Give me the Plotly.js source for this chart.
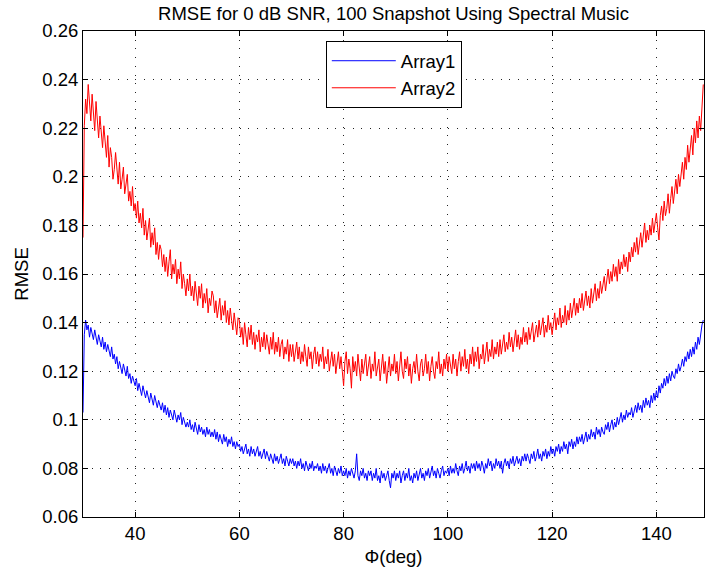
<!DOCTYPE html>
<html>
<head>
<meta charset="utf-8">
<script src="https://cdn.plot.ly/plotly-3.0.1.min.js"></script>
<style>html,body{margin:0;padding:0;background:#fff;}#chart{width:705px;height:574px;}</style>
</head>
<body>
<div id="chart"></div>
<script>
// Angle grid: starts at 30 deg, step 0.25 deg (one row = 5 deg)
const phiStart = 30;
const phiStep = 0.25;

const array1 = [
0.103,0.135,0.141,0.137,0.139,0.134,0.138,0.136,0.133,0.137,0.134,0.131,0.135,0.132,0.130,0.134,0.129,0.132,0.128,0.131,
0.129,0.126,0.130,0.125,0.127,0.123,0.126,0.121,0.124,0.122,0.119,0.123,0.121,0.118,0.122,0.117,0.119,0.115,0.118,0.116,
0.114,0.117,0.112,0.115,0.113,0.110,0.114,0.111,0.109,0.112,0.110,0.107,0.111,0.108,0.106,0.110,0.107,0.105,0.108,0.106,
0.104,0.107,0.103,0.106,0.102,0.105,0.101,0.104,0.102,0.100,0.104,0.101,0.099,0.102,0.100,0.103,0.098,0.101,0.099,0.097,
0.099,0.097,0.100,0.096,0.098,0.095,0.099,0.096,0.094,0.098,0.095,0.097,0.094,0.096,0.093,0.097,0.094,0.096,0.093,0.095,
0.093,0.096,0.092,0.095,0.091,0.094,0.092,0.090,0.094,0.091,0.093,0.089,0.092,0.090,0.093,0.089,0.091,0.088,0.091,0.089,
0.090,0.087,0.089,0.086,0.088,0.090,0.086,0.088,0.085,0.089,0.086,0.088,0.085,0.087,0.089,0.085,0.087,0.084,0.086,0.088,
0.084,0.087,0.085,0.083,0.086,0.084,0.082,0.086,0.083,0.085,0.082,0.084,0.086,0.082,0.084,0.081,0.085,0.083,0.081,0.084,
0.082,0.084,0.081,0.083,0.080,0.083,0.081,0.084,0.080,0.082,0.079,0.083,0.081,0.079,0.082,0.080,0.083,0.079,0.081,0.080,
0.082,0.079,0.081,0.078,0.082,0.079,0.081,0.078,0.080,0.082,0.078,0.080,0.077,0.081,0.079,0.077,0.080,0.078,0.081,0.077,
0.079,0.077,0.080,0.076,0.079,0.077,0.080,0.078,0.076,0.079,0.086,0.077,0.075,0.079,0.077,0.080,0.076,0.078,0.075,0.079,
0.077,0.079,0.075,0.078,0.076,0.080,0.075,0.077,0.074,0.079,0.076,0.078,0.075,0.077,0.079,0.075,0.072,0.078,0.076,0.079,
0.075,0.078,0.076,0.079,0.074,0.077,0.079,0.075,0.078,0.076,0.080,0.075,0.077,0.074,0.078,0.076,0.079,0.075,0.077,0.080,
0.076,0.078,0.075,0.079,0.077,0.080,0.076,0.078,0.081,0.077,0.079,0.076,0.080,0.078,0.076,0.079,0.081,0.077,0.079,0.078,
0.080,0.077,0.081,0.078,0.080,0.078,0.082,0.079,0.077,0.081,0.079,0.082,0.078,0.080,0.083,0.079,0.081,0.078,0.082,0.080,
0.082,0.079,0.083,0.080,0.082,0.079,0.083,0.081,0.078,0.082,0.080,0.084,0.081,0.083,0.079,0.082,0.080,0.084,0.081,0.083,
0.080,0.083,0.078,0.082,0.084,0.081,0.083,0.080,0.084,0.082,0.085,0.081,0.083,0.085,0.082,0.084,0.081,0.085,0.083,0.086,
0.083,0.086,0.084,0.082,0.086,0.084,0.087,0.083,0.085,0.088,0.084,0.086,0.083,0.087,0.085,0.088,0.084,0.087,0.085,0.089,
0.086,0.088,0.085,0.089,0.087,0.090,0.086,0.089,0.087,0.091,0.088,0.090,0.086,0.091,0.089,0.092,0.088,0.091,0.089,0.093,
0.090,0.093,0.091,0.094,0.090,0.093,0.095,0.091,0.094,0.092,0.096,0.093,0.095,0.092,0.097,0.094,0.096,0.093,0.097,0.095,
0.094,0.098,0.096,0.099,0.095,0.098,0.100,0.096,0.099,0.097,0.101,0.098,0.100,0.103,0.099,0.102,0.100,0.104,0.101,0.103,
0.102,0.105,0.101,0.104,0.106,0.103,0.107,0.104,0.106,0.103,0.108,0.105,0.109,0.106,0.108,0.105,0.110,0.107,0.111,0.108,
0.112,0.109,0.114,0.111,0.115,0.113,0.117,0.114,0.118,0.115,0.119,0.116,0.120,0.118,0.117,0.121,0.119,0.123,0.120,0.122,
0.125,0.122,0.126,0.124,0.128,0.125,0.129,0.126,0.130,0.127,0.132,0.129,0.134,0.131,0.136,0.139,0.141
];

const array2 = [
0.175,0.221,0.232,0.226,0.238,0.229,0.223,0.234,0.227,0.219,0.231,0.222,0.216,0.225,0.218,0.212,0.221,0.214,0.208,0.217,
0.204,0.212,0.208,0.199,0.203,0.210,0.201,0.197,0.206,0.195,0.199,0.204,0.193,0.198,0.201,0.190,0.194,0.188,0.196,0.186,
0.189,0.183,0.190,0.181,0.185,0.179,0.187,0.176,0.182,0.174,0.179,0.183,0.171,0.177,0.172,0.179,0.168,0.173,0.166,0.172,
0.170,0.163,0.168,0.161,0.167,0.159,0.165,0.170,0.158,0.164,0.160,0.166,0.156,0.162,0.158,0.165,0.154,0.160,0.156,0.151,
0.158,0.153,0.160,0.151,0.155,0.149,0.157,0.152,0.147,0.155,0.150,0.156,0.146,0.152,0.148,0.154,0.144,0.150,0.147,0.153,
0.151,0.144,0.149,0.142,0.146,0.150,0.141,0.147,0.143,0.149,0.140,0.145,0.139,0.146,0.141,0.137,0.144,0.139,0.135,0.142,
0.141,0.134,0.138,0.131,0.140,0.135,0.130,0.138,0.133,0.139,0.131,0.136,0.129,0.135,0.132,0.137,0.128,0.134,0.130,0.136,
0.129,0.135,0.130,0.127,0.134,0.129,0.136,0.127,0.132,0.128,0.134,0.126,0.131,0.133,0.125,0.130,0.127,0.133,0.124,0.131,
0.126,0.131,0.124,0.129,0.132,0.125,0.130,0.123,0.128,0.124,0.131,0.126,0.122,0.130,0.125,0.128,0.121,0.127,0.130,0.123,
0.128,0.122,0.127,0.124,0.130,0.121,0.126,0.123,0.129,0.120,0.125,0.128,0.122,0.127,0.119,0.124,0.128,0.121,0.126,0.120,
0.114,0.124,0.128,0.119,0.125,0.121,0.113,0.126,0.120,0.124,0.118,0.127,0.121,0.116,0.125,0.119,0.123,0.127,0.118,0.122,
0.126,0.117,0.123,0.120,0.128,0.118,0.122,0.125,0.116,0.121,0.127,0.119,0.124,0.115,0.122,0.126,0.118,0.123,0.120,0.127,
0.119,0.124,0.116,0.122,0.128,0.120,0.117,0.125,0.121,0.126,0.118,0.123,0.115,0.121,0.124,0.119,0.127,0.120,0.116,0.123,
0.125,0.118,0.121,0.127,0.119,0.124,0.116,0.122,0.126,0.120,0.117,0.124,0.121,0.128,0.119,0.123,0.118,0.125,0.121,0.127,
0.120,0.126,0.122,0.119,0.127,0.121,0.125,0.118,0.124,0.128,0.120,0.126,0.122,0.129,0.121,0.125,0.119,0.127,0.123,0.130,
0.122,0.128,0.124,0.130,0.121,0.127,0.125,0.131,0.123,0.128,0.132,0.124,0.129,0.126,0.133,0.125,0.130,0.127,0.132,0.126,
0.133,0.127,0.131,0.135,0.128,0.132,0.129,0.136,0.130,0.134,0.128,0.133,0.137,0.130,0.135,0.129,0.134,0.131,0.138,0.132,
0.136,0.131,0.138,0.133,0.137,0.140,0.132,0.136,0.139,0.134,0.141,0.135,0.138,0.142,0.134,0.139,0.136,0.143,0.137,0.140,
0.135,0.141,0.144,0.137,0.142,0.139,0.146,0.138,0.143,0.140,0.147,0.139,0.145,0.141,0.148,0.142,0.146,0.150,0.143,0.148,
0.144,0.150,0.146,0.152,0.145,0.149,0.153,0.147,0.151,0.146,0.154,0.148,0.152,0.156,0.149,0.154,0.150,0.157,0.152,0.155,
0.159,0.153,0.158,0.162,0.156,0.161,0.157,0.164,0.159,0.163,0.157,0.166,0.160,0.165,0.162,0.168,0.163,0.167,0.161,0.169,
0.165,0.171,0.167,0.173,0.169,0.175,0.168,0.172,0.177,0.171,0.176,0.181,0.173,0.178,0.174,0.180,0.176,0.183,0.177,0.181,
0.185,0.179,0.174,0.184,0.188,0.182,0.190,0.184,0.187,0.193,0.185,0.191,0.196,0.189,0.194,0.199,0.193,0.201,0.196,0.202,
0.206,0.199,0.208,0.203,0.213,0.206,0.211,0.217,0.209,0.220,0.214,0.223,0.216,0.225,0.219,0.231,0.238
];

const seriesNames = ["Array1", "Array2"];
const titleText = "RMSE for 0 dB SNR, 100 Snapshot Using Spectral Music";
const xLabel = "\u03A6(deg)";
const yLabel = "RMSE";
const xTicks = [40, 60, 80, 100, 120, 140];
const yTicks = [0.06, 0.08, 0.1, 0.12, 0.14, 0.16, 0.18, 0.2, 0.22, 0.24, 0.26];
const yTickText = ["0.06","0.08","0.1","0.12","0.14","0.16","0.18","0.2","0.22","0.24","0.26"];

const FONT = "Liberation Sans, Arial, Helvetica, sans-serif";

const traces = [
  {type: "scatter", mode: "lines", name: seriesNames[0], y: array1, x0: phiStart, dx: phiStep,
   line: {color: "#0000ff", width: 1}},
  {type: "scatter", mode: "lines", name: seriesNames[1], y: array2, x0: phiStart, dx: phiStep,
   line: {color: "#ff0000", width: 1}}
];

const axisCommon = {
  showline: true, linecolor: "#000", linewidth: 1, mirror: "allticks",
  ticks: "inside", ticklen: 5, tickcolor: "#000", tickwidth: 1,
  showgrid: true, gridcolor: "#222", gridwidth: 1, griddash: "1px,7.7px",
  zeroline: false, tickfont: {family: FONT, size: 18.5, color: "#000"}
};

const layout = {
  width: 705, height: 574,
  margin: {l: 83, r: 1, t: 31, b: 57, pad: 0},
  paper_bgcolor: "#fff", plot_bgcolor: "#fff",
  font: {family: FONT, size: 18.5, color: "#000"},
  title: {text: titleText, font: {family: FONT, size: 18.5, color: "#000"},
          x: 0.5, xref: "paper", xanchor: "center", y: 1 - 14/574, yref: "container", yanchor: "middle"},
  xaxis: Object.assign({}, axisCommon, {
    range: [30, 149.14], tickmode: "array", tickvals: xTicks, ticktext: xTicks.map(String),
    title: {text: xLabel, font: {family: FONT, size: 18.5, color: "#000"}, standoff: 6}
  }),
  yaxis: Object.assign({}, axisCommon, {
    range: [0.06, 0.26], tickmode: "array", tickvals: yTicks, ticktext: yTickText,
    title: {text: yLabel, font: {family: FONT, size: 18.5, color: "#000"}, standoff: 8}
  }),
  showlegend: true,
  legend: {x: 0.391, y: 0.979, xanchor: "left", yanchor: "top",
           bgcolor: "#fff", bordercolor: "#000", borderwidth: 1, itemwidth: 64,
           font: {family: FONT, size: 18.5, color: "#000"}, tracegroupgap: 0}
};

Plotly.newPlot("chart", traces, layout, {staticPlot: true, displayModeBar: false});
</script>
</body>
</html>
